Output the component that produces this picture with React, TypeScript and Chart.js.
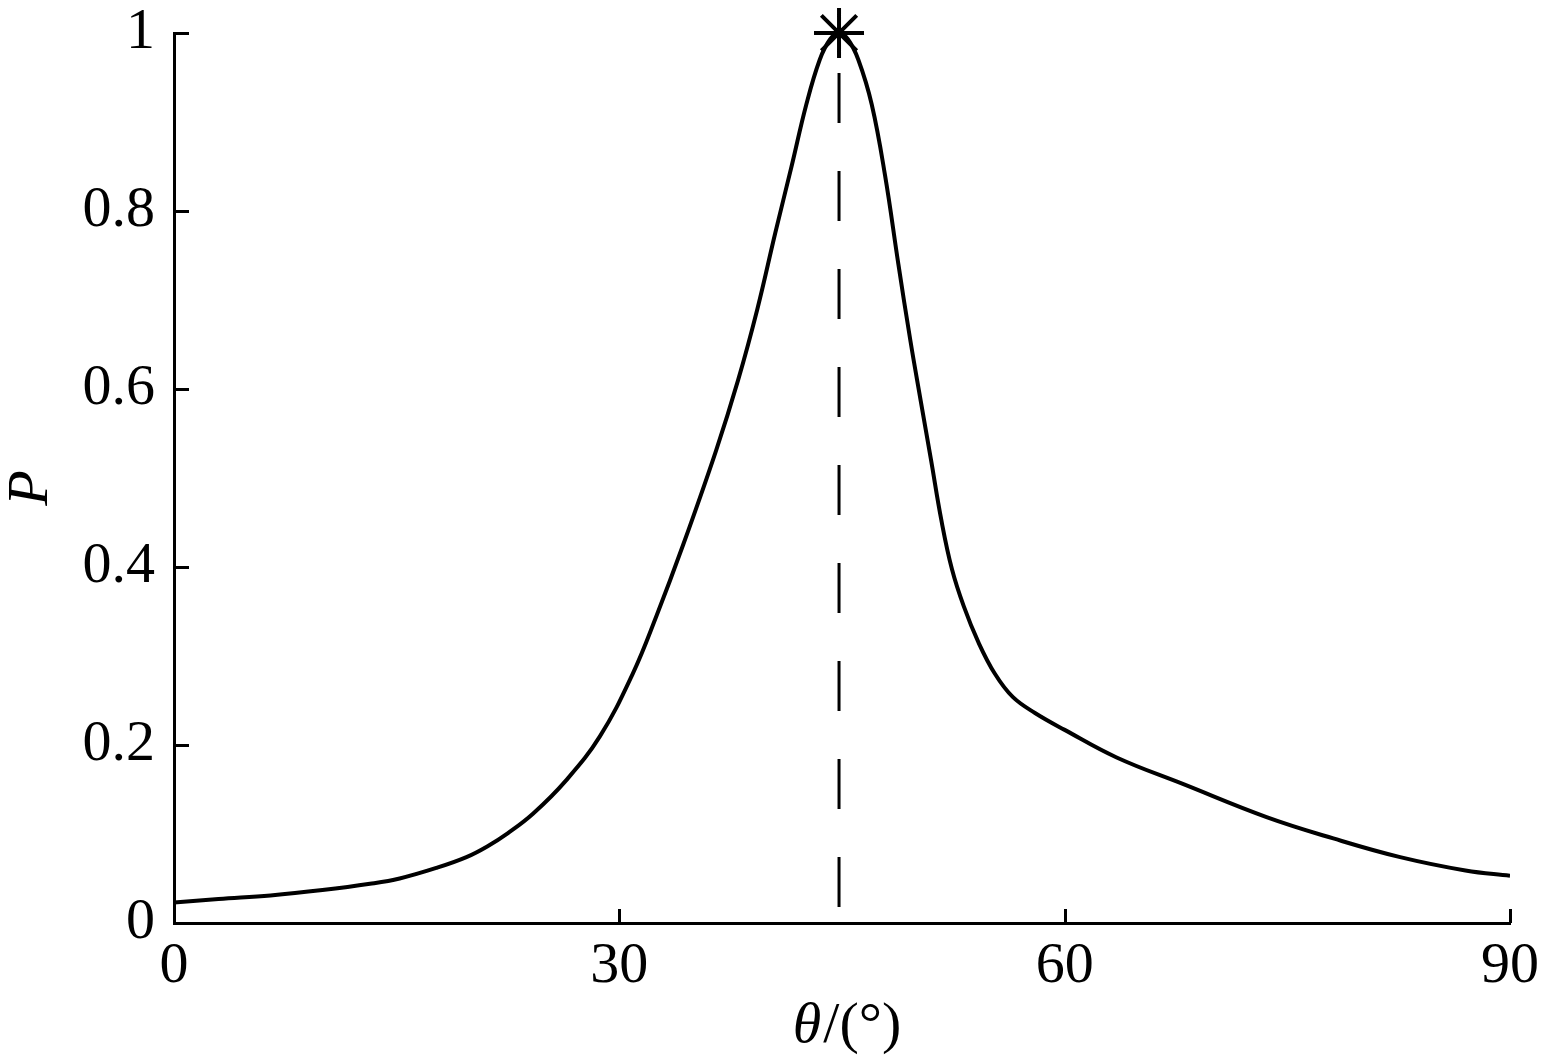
import React, { useEffect, useRef } from "react";
import { Chart, registerables } from "chart.js";

Chart.register(...registerables);

// ---- data ----
const thetaDeg = [
  0, 3, 6.5, 10, 13.2, 15.2, 17.7, 19.7, 21.1, 22.5, 24.2, 26.4, 28.7, 30.9,
  32.5, 34.3, 36.5, 38.0, 39.3, 40.5, 41.6, 42.6, 43.5, 44.2, 44.8, 45.4,
  46.1, 47.0, 47.9, 48.8, 49.6, 50.3, 51.0, 51.7, 52.4, 53.2, 54.2, 55.3,
  56.5, 58.0, 60.0, 63.5, 68.0, 73.6, 78.1, 82.6, 87.0, 90,
];
const probability = [
  0.023, 0.027, 0.031, 0.037, 0.044, 0.05, 0.062, 0.074, 0.086, 0.101, 0.123,
  0.16, 0.21, 0.28, 0.345, 0.425, 0.53, 0.61, 0.69, 0.775, 0.85, 0.92, 0.97,
  0.993, 1.0, 0.993, 0.97, 0.92, 0.84, 0.74, 0.655, 0.587, 0.52, 0.452, 0.398,
  0.356, 0.315, 0.28, 0.254, 0.236, 0.217, 0.186, 0.156, 0.119, 0.095, 0.074,
  0.059, 0.053,
];
const peakTheta = [44.8];
const peakP = [1];
const markerLineP = [1, 0];
const xTickValues = [0, 30, 60, 90];
const yTickValues = [0, 0.2, 0.4, 0.6, 0.8, 1];
const xTitleItalic = "θ";
const xTitleRest = "/(°)";
const yTitle = "P";

const SERIF = "'Liberation Serif', 'Times New Roman', Times, serif";
const FONT_SIZE = 58;

const axisDecor = {
  id: "axisDecor",
  afterDraw(chart: any) {
    const { ctx, chartArea, scales } = chart;
    const xs = scales.x;
    const ys = scales.y;
    ctx.save();
    ctx.strokeStyle = "#000";
    ctx.lineWidth = 3;
    ctx.lineCap = "butt";
    ctx.beginPath();
    for (const v of yTickValues) {
      const py = Math.round(ys.getPixelForValue(v)) + 0.5;
      ctx.moveTo(chartArea.left, py);
      ctx.lineTo(chartArea.left + 15, py);
    }
    for (const v of xTickValues) {
      const px = Math.round(xs.getPixelForValue(v)) + 0.5;
      ctx.moveTo(px, chartArea.bottom);
      ctx.lineTo(px, chartArea.bottom - 14);
    }
    ctx.stroke();

    // x-axis title: italic theta + upright rest
    ctx.fillStyle = "#000";
    ctx.textBaseline = "alphabetic";
    ctx.textAlign = "left";
    ctx.font = `italic ${FONT_SIZE}px ${SERIF}`;
    const w1 = ctx.measureText(xTitleItalic).width;
    ctx.font = `${FONT_SIZE}px ${SERIF}`;
    const w2 = ctx.measureText(xTitleRest).width;
    const cx = (chartArea.left + chartArea.right) / 2 + 4;
    const baseY = chartArea.bottom + 119;
    const startX = cx - (w1 + w2) / 2;
    ctx.font = `italic ${FONT_SIZE}px ${SERIF}`;
    ctx.fillText(xTitleItalic, startX, baseY);
    ctx.font = `${FONT_SIZE}px ${SERIF}`;
    ctx.fillText(xTitleRest, startX + w1 + 2, baseY);

    // y-axis title
    ctx.translate(32, (chartArea.top + chartArea.bottom) / 2 + 10);
    ctx.rotate(-Math.PI / 2);
    ctx.textAlign = "center";
    ctx.textBaseline = "middle";
    ctx.font = `italic ${FONT_SIZE}px ${SERIF}`;
    ctx.fillText(yTitle, 0, 0);
    ctx.restore();
  },
};

const zeroPadding = (scale: any) => {
  scale.paddingTop = 0;
  scale.paddingBottom = 0;
  scale.paddingLeft = 0;
  scale.paddingRight = 0;
};

export default function App() {
  const canvasRef = useRef<HTMLCanvasElement | null>(null);

  useEffect(() => {
    if (!canvasRef.current) return;
    const curve = thetaDeg.map((t, i) => ({ x: t, y: probability[i] }));
    const markerLine = markerLineP.map((p) => ({ x: peakTheta[0], y: p }));
    const peak = peakTheta.map((t, i) => ({ x: t, y: peakP[i] }));

    const chart = new Chart(canvasRef.current, {
      type: "line",
      data: {
        datasets: [
          {
            data: curve,
            borderColor: "#000",
            borderWidth: 4,
            pointRadius: 0,
            tension: 0.4,
            fill: false,
          },
          {
            data: markerLine,
            borderColor: "#000",
            borderWidth: 3,
            borderDash: [50, 48],
            borderDashOffset: 58,
            pointRadius: 0,
            fill: false,
          },
          {
            data: peak,
            showLine: false,
            pointStyle: "star",
            pointRadius: 25,
            pointBorderWidth: 4,
            pointBorderColor: "#000",
            pointBackgroundColor: "#000",
            clip: false,
          } as any,
        ],
      },
      options: {
        animation: false,
        responsive: true,
        maintainAspectRatio: false,
        layout: { padding: { top: 33, right: 36, left: 0, bottom: 0 } },
        plugins: {
          legend: { display: false },
          tooltip: { enabled: false },
        },
        scales: {
          x: {
            type: "linear",
            min: 0,
            max: 90,
            afterBuildTicks: (scale: any) => {
              scale.ticks = xTickValues.map((v) => ({ value: v }));
            },
            afterFit: (scale: any) => {
              scale.height = 138;
              zeroPadding(scale);
            },
            ticks: {
              padding: 15,
              color: "#000",
              maxRotation: 0,
              font: { family: SERIF, size: FONT_SIZE, lineHeight: 1 },
              callback: (v: any) => String(v),
            },
            grid: { display: true, drawOnChartArea: false, drawTicks: false },
            border: { display: true, color: "#000", width: 3 },
          },
          y: {
            type: "linear",
            min: 0,
            max: 1,
            afterBuildTicks: (scale: any) => {
              scale.ticks = yTickValues.map((v) => ({ value: v }));
            },
            afterFit: (scale: any) => {
              scale.width = 174;
              zeroPadding(scale);
            },
            ticks: {
              padding: 19,
              color: "#000",
              font: { family: SERIF, size: FONT_SIZE, lineHeight: 1 },
              callback: (v: any) => String(v),
            },
            grid: { display: true, drawOnChartArea: false, drawTicks: false },
            border: { display: true, color: "#000", width: 3 },
          },
        },
      },
      plugins: [axisDecor],
    });
    return () => chart.destroy();
  }, []);

  return (
    <div
      style={{
        position: "absolute",
        left: 0,
        top: 0,
        width: 1546,
        height: 1061,
        background: "#fff",
      }}
    >
      <canvas ref={canvasRef} />
    </div>
  );
}
